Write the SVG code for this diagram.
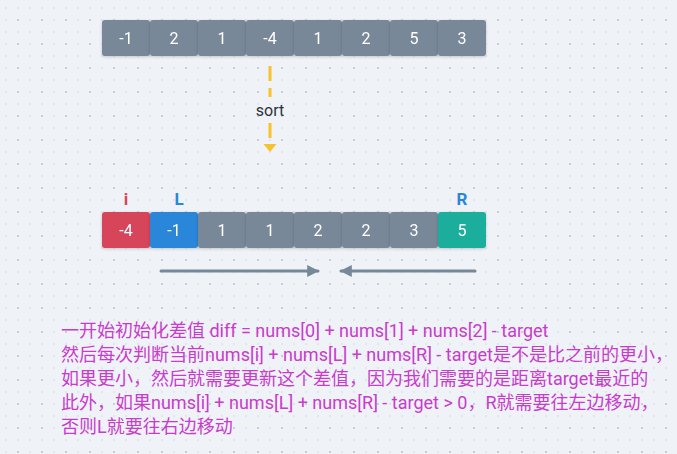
<svg xmlns="http://www.w3.org/2000/svg" width="677" height="454" viewBox="0 0 677 454">
<defs>
<pattern id="grid" x="0" y="0" width="24" height="24" patternUnits="userSpaceOnUse">
<rect x="5" y="7" width="2" height="2" fill="#e1e5ec"/>
<rect x="17" y="7" width="2" height="2" fill="#e1e5ec"/>
<rect x="5" y="19" width="2" height="2" fill="#e1e5ec"/>
<rect x="17" y="19" width="2" height="2" fill="#c9ced8"/>
</pattern>
<filter id="sh" x="-20%" y="-20%" width="140%" height="160%">
<feDropShadow dx="0" dy="1" stdDeviation="1.5" flood-color="#000" flood-opacity="0.18"/>
</filter>
<marker id="ah" viewBox="0 0 10 10" refX="9" refY="5" markerWidth="4" markerHeight="4.5" orient="auto" markerUnits="strokeWidth">
<path d="M0,0 L10,5 L0,10 z" fill="#778898"/>
</marker>
</defs>
<style>
.cell{filter:url(#sh);}
.cell rect{rx:3;ry:3;}
.g{fill:#788898;}
.red{fill:#d6455a;}
.blue{fill:#2a86d9;}
.teal{fill:#1aae9d;}
.v{font-family:Roboto,"Noto Sans",sans-serif;font-size:16px;fill:#fff;text-anchor:middle;dominant-baseline:central;}
.lbl{font-family:Roboto,"Noto Sans",sans-serif;font-size:17px;font-weight:bold;text-anchor:middle;dominant-baseline:central;}
.desc{font-family:Roboto,"Noto Sans","Noto Sans CJK SC",sans-serif;font-size:18px;fill:#c83ccc;}
.dash{stroke:#f8c22c;stroke-width:3;}
</style>
<rect width="677" height="454" fill="#eff2f6"/>
<rect width="677" height="454" fill="url(#grid)"/>

<g id="top-array">
<g id="t0" class="cell"><rect class="g" x="102" y="20" width="48" height="36"/><text class="v" x="126" y="38">-1</text></g>
<g id="t1" class="cell"><rect class="g" x="150" y="20" width="48" height="36"/><text class="v" x="174" y="38">2</text></g>
<g id="t2" class="cell"><rect class="g" x="198" y="20" width="48" height="36"/><text class="v" x="222" y="38">1</text></g>
<g id="t3" class="cell"><rect class="g" x="246" y="20" width="48" height="36"/><text class="v" x="270" y="38">-4</text></g>
<g id="t4" class="cell"><rect class="g" x="294" y="20" width="48" height="36"/><text class="v" x="318" y="38">1</text></g>
<g id="t5" class="cell"><rect class="g" x="342" y="20" width="48" height="36"/><text class="v" x="366" y="38">2</text></g>
<g id="t6" class="cell"><rect class="g" x="390" y="20" width="48" height="36"/><text class="v" x="414" y="38">5</text></g>
<g id="t7" class="cell"><rect class="g" x="438" y="20" width="48" height="36"/><text class="v" x="462" y="38">3</text></g>
</g>

<g id="bottom-array">
<g id="b0" class="cell"><rect class="red" x="102" y="212" width="48" height="36"/><text class="v" x="126" y="230">-4</text></g>
<g id="b1" class="cell"><rect class="blue" x="150" y="212" width="48" height="36"/><text class="v" x="174" y="230">-1</text></g>
<g id="b2" class="cell"><rect class="g" x="198" y="212" width="48" height="36"/><text class="v" x="222" y="230">1</text></g>
<g id="b3" class="cell"><rect class="g" x="246" y="212" width="48" height="36"/><text class="v" x="270" y="230">1</text></g>
<g id="b4" class="cell"><rect class="g" x="294" y="212" width="48" height="36"/><text class="v" x="318" y="230">2</text></g>
<g id="b5" class="cell"><rect class="g" x="342" y="212" width="48" height="36"/><text class="v" x="366" y="230">2</text></g>
<g id="b6" class="cell"><rect class="g" x="390" y="212" width="48" height="36"/><text class="v" x="414" y="230">3</text></g>
<g id="b7" class="cell"><rect class="teal" x="438" y="212" width="48" height="36"/><text class="v" x="462" y="230">5</text></g>
</g>

<g id="labels">
<text class="lbl" x="126" y="199" fill="#d6455a">i</text>
<text class="lbl" x="179" y="199" fill="#2a86d9">L</text>
<text class="lbl" x="462" y="199" fill="#2a86d9">R</text>
</g>

<g id="connectors">
<line class="dash" x1="270" y1="66" x2="270" y2="81"/>
<line class="dash" x1="270" y1="88" x2="270" y2="97"/>
<line class="dash" x1="270" y1="123" x2="270" y2="138"/>
<path d="M263.5,144 L276.5,144 L270,152 z" fill="#f8c22c"/>
<text x="270" y="110" font-family="Roboto,'Noto Sans',sans-serif" font-size="16" fill="#2b3440" text-anchor="middle" dominant-baseline="central">sort</text>
<line x1="161" y1="271" x2="318" y2="271" stroke="#778898" stroke-width="3" stroke-linecap="round" marker-end="url(#ah)"/>
<line x1="475" y1="271" x2="341" y2="271" stroke="#778898" stroke-width="3" stroke-linecap="round" marker-end="url(#ah)"/>
</g>

<g id="description">
<text class="desc" x="61" y="337">一开始初始化差值 diff = nums[0] + nums[1] + nums[2] - target</text>
<text class="desc" x="61" y="361">然后每次判断当前nums[i] + nums[L] + nums[R] - target是不是比之前的更小，</text>
<text class="desc" x="61" y="385">如果更小，然后就需要更新这个差值，因为我们需要的是距离target最近的</text>
<text class="desc" x="61" y="409">此外，如果nums[i] + nums[L] + nums[R] - target &gt; 0，R就需要往左边移动，</text>
<text class="desc" x="61" y="433">否则L就要往右边移动</text>
</g>
</svg>
